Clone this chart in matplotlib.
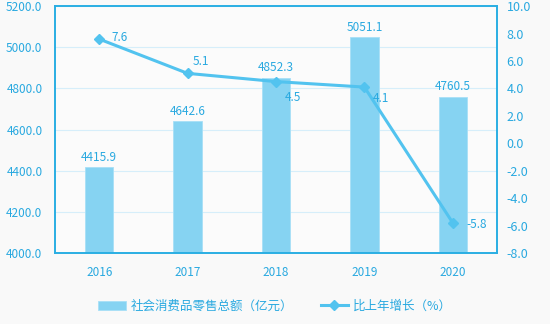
import matplotlib.pyplot as plt
import numpy as np

plt.rcParams['font.family'] = ['Noto Sans CJK SC', 'DejaVu Sans']

years = ['2016', '2017', '2018', '2019', '2020']
sales = [4415.9, 4642.6, 4852.3, 5051.1, 4760.5]
growth = [7.6, 5.1, 4.5, 4.1, -5.8]

bar_color = '#86d3f2'
line_color = '#52c3ef'
text_color = '#29a9e0'

fig = plt.figure(figsize=(5.5, 3.24), dpi=100, facecolor='#f9f9f9')
ax = fig.add_axes([0.1, 0.219, 0.8036, 0.762])
ax.set_facecolor('#fbfbfb')
x = np.arange(len(years))

bars = ax.bar(x, sales, width=0.32, color=bar_color, edgecolor='#a8e0f7',
              linewidth=0.6, label='社会消费品零售总额（亿元）', zorder=2)
ax.set_ylim(4000, 5200)
ax.set_yticks(np.arange(4000, 5201, 200))
ax.set_yticklabels([f'{v:.1f}' for v in np.arange(4000, 5201, 200)])
ax.set_xlim(-0.5, 4.5)
ax.set_xticks(x)
ax.set_xticklabels(years)
ax.grid(axis='y', color='#d6eefa', linewidth=0.8, zorder=0)
ax.tick_params(length=0, colors=text_color, labelsize=8.5)
ax.tick_params(axis='x', pad=9)
ax.tick_params(axis='y', pad=9)
for s in ax.spines.values():
    s.set_color('#2aaee3')
    s.set_linewidth(1.2)

for xi, v in zip(x, sales):
    ax.annotate(f'{v:.1f}', (xi, v), xytext=(0, 7), textcoords='offset points',
                ha='center', va='center', color=text_color, fontsize=8.5)

ax2 = ax.twinx()
line, = ax2.plot(x, growth, color=line_color, linewidth=2.2, marker='D',
                 markersize=5, label='比上年增长（%）', zorder=3)
ax2.set_ylim(-8, 10)
ax2.set_yticks(np.arange(-8, 11, 2))
ax2.set_yticklabels([f'{v:.1f}' for v in np.arange(-8, 11, 2)])
ax2.tick_params(length=0, colors=text_color, labelsize=9, pad=7)
for s in ax2.spines.values():
    s.set_color('#2aaee3')
    s.set_linewidth(1.2)

# 增长率标签的偏移（点）
offsets = [(15, 1), (9.5, 8.5), (12, -11.5), (12, -8), (17, -1)]
for xi, v, off in zip(x, growth, offsets):
    ax2.annotate(f'{v:.1f}', (xi, v), xytext=off, textcoords='offset points',
                 ha='center', va='center', color=text_color, fontsize=8.5)

fig.legend([bars, line], ['社会消费品零售总额（亿元）', '比上年增长（%）'],
           loc='lower center', bbox_to_anchor=(0.5, 0.0), ncol=2, frameon=False,
           fontsize=9, labelcolor=text_color, handlelength=2.2, columnspacing=2.2,
           handletextpad=0.4)

fig.savefig('out.png', dpi=100, facecolor=fig.get_facecolor())
